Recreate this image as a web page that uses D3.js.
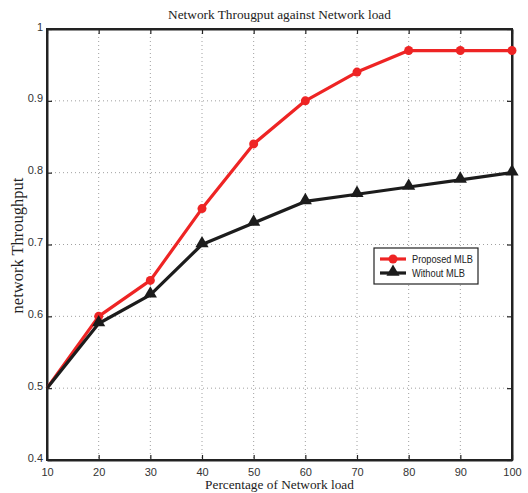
<!DOCTYPE html>
<html>
<head>
<meta charset="utf-8">
<script src="https://cdn.jsdelivr.net/npm/d3@7"></script>
<style>
  body { margin: 0; background: #fff; }
  svg { display: block; }
</style>
</head>
<body>
<div id="chart"></div>
<script>
// data
var loads = [10, 20, 30, 40, 50, 60, 70, 80, 90, 100];
var proposed = [0.5, 0.6, 0.65, 0.75, 0.84, 0.9, 0.94, 0.97, 0.97, 0.97];
var without = [0.5, 0.59, 0.63, 0.70, 0.73, 0.76, 0.77, 0.78, 0.79, 0.80];
var yTicks = [0.4, 0.5, 0.6, 0.7, 0.8, 0.9, 1];
var seriesNames = ["Proposed MLB", "Without MLB"];

var margin = {top: 29, right: 16, bottom: 33, left: 47},
    width = 528 - margin.left - margin.right,
    height = 493 - margin.top - margin.bottom;

var svg = d3.select("#chart")
  .append("svg")
    .attr("width", 528)
    .attr("height", 493)
  .append("g")
    .attr("transform", "translate(" + margin.left + "," + margin.top + ")");

var x = d3.scaleLinear().domain([10, 100]).range([0, width]);
var y = d3.scaleLinear().domain([0.4, 1]).range([height, 0]);

// dotted grid
svg.append("g")
  .selectAll("line")
  .data(loads.slice(1, -1))
  .enter().append("line")
    .attr("x1", function(d) { return x(d); })
    .attr("x2", function(d) { return x(d); })
    .attr("y1", 0).attr("y2", height)
    .attr("stroke", "#888").attr("stroke-width", 0.8)
    .attr("stroke-dasharray", "1,3");
svg.append("g")
  .selectAll("line")
  .data(yTicks.slice(1, -1))
  .enter().append("line")
    .attr("y1", function(d) { return y(d); })
    .attr("y2", function(d) { return y(d); })
    .attr("x1", 0).attr("x2", width)
    .attr("stroke", "#888").attr("stroke-width", 0.8)
    .attr("stroke-dasharray", "1,3");

// axes, ticks pointing inwards like matlab
var fmt = function(d) { return d3.format("")(+d.toFixed(1)); };
var xAxis = svg.append("g")
  .attr("transform", "translate(0," + height + ")")
  .call(d3.axisBottom(x).tickValues(loads).tickSizeInner(-5).tickSizeOuter(0).tickPadding(8));
var yAxis = svg.append("g")
  .call(d3.axisLeft(y).tickValues(yTicks).tickFormat(fmt).tickSizeInner(-5).tickSizeOuter(0).tickPadding(4));
svg.append("g")
  .call(d3.axisTop(x).tickValues(loads).tickSizeInner(-5).tickSizeOuter(0).tickFormat(""));
svg.append("g")
  .attr("transform", "translate(" + width + ",0)")
  .call(d3.axisRight(y).tickValues(yTicks).tickSizeInner(-5).tickSizeOuter(0).tickFormat(""));

svg.selectAll(".domain").attr("stroke", "#222").attr("stroke-width", 2);
svg.selectAll(".tick line").attr("stroke", "#222").attr("stroke-width", 1.2);
svg.selectAll(".tick text")
  .attr("font-family", "Liberation Sans, Arial, sans-serif")
  .attr("font-size", 11)
  .attr("fill", "#333");
yAxis.selectAll(".tick text").attr("dy", "0.1em");

// box
svg.append("rect")
  .attr("width", width).attr("height", height)
  .attr("fill", "none").attr("stroke", "#222").attr("stroke-width", 2);

var line = d3.line()
  .x(function(d, i) { return x(loads[i]); })
  .y(function(d) { return y(d); });

var colors = ["#ee2424", "#1c1c1c"];
var triangle = d3.symbol().type(d3.symbolTriangle).size(75);

[proposed, without].forEach(function(vals, k) {
  svg.append("path")
    .datum(vals)
    .attr("fill", "none")
    .attr("stroke", colors[k])
    .attr("stroke-width", 3.2)
    .attr("stroke-linejoin", "round")
    .attr("d", line);
  var pts = svg.append("g").selectAll(".pt")
    .data(vals.slice(1))
    .enter();
  if (k == 0) {
    pts.append("circle")
      .attr("cx", function(d, i) { return x(loads[i + 1]); })
      .attr("cy", function(d) { return y(d); })
      .attr("r", 4.5)
      .attr("fill", colors[k]);
  } else {
    pts.append("path")
      .attr("d", triangle)
      .attr("transform", function(d, i) { return "translate(" + x(loads[i + 1]) + "," + (y(d) - 1) + ")"; })
      .attr("fill", colors[k]);
  }
});

// legend
var lg = svg.append("g").attr("transform", "translate(" + (374 - margin.left) + "," + (248 - margin.top) + ")");
lg.append("rect")
  .attr("width", 104).attr("height", 36)
  .attr("fill", "#fff").attr("stroke", "#222").attr("stroke-width", 1.2);
var textLens = [61, 53];
seriesNames.forEach(function(name, k) {
  var yy = 11 + k * 14;
  lg.append("line")
    .attr("x1", 6).attr("x2", 32).attr("y1", yy).attr("y2", yy)
    .attr("stroke", colors[k]).attr("stroke-width", 3.2);
  if (k == 0) {
    lg.append("circle").attr("cx", 19).attr("cy", yy).attr("r", 4.5).attr("fill", colors[k]);
  } else {
    lg.append("path").attr("d", triangle).attr("transform", "translate(19," + (yy - 1) + ")").attr("fill", colors[k]);
  }
  lg.append("text")
    .attr("x", 38).attr("y", yy + 4)
    .attr("font-family", "Liberation Sans, Arial, sans-serif")
    .attr("font-size", 10.5)
    .attr("textLength", textLens[k])
    .attr("lengthAdjust", "spacingAndGlyphs")
    .attr("fill", "#222")
    .text(name);
});

// titles
svg.append("text")
  .attr("x", width / 2).attr("y", -10)
  .attr("text-anchor", "middle")
  .attr("font-family", "Liberation Serif, Times New Roman, serif")
  .attr("font-size", 13.3)
  .attr("fill", "#222")
  .text("Network Througput against Network load");
svg.append("text")
  .attr("x", width / 2).attr("y", height + 29)
  .attr("text-anchor", "middle")
  .attr("font-family", "Liberation Serif, Times New Roman, serif")
  .attr("font-size", 13.3)
  .attr("fill", "#222")
  .text("Percentage of Network load");
svg.append("text")
  .attr("transform", "translate(" + (-24) + "," + (y(0.7) + 1) + ") rotate(-90)")
  .attr("text-anchor", "middle")
  .attr("font-family", "Liberation Serif, Times New Roman, serif")
  .attr("font-size", 16.5)
  .attr("fill", "#222")
  .text("network  Throughput");
</script>
</body>
</html>
